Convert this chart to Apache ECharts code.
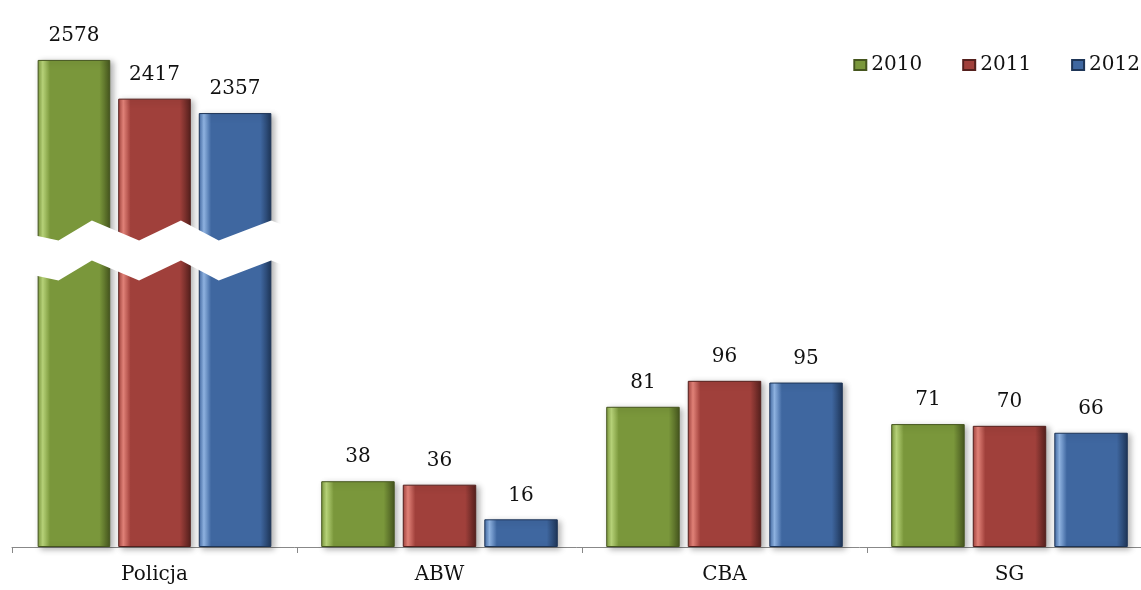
<!DOCTYPE html>
<html>
<head>
<meta charset="utf-8">
<script src="https://cdn.jsdelivr.net/npm/echarts@6/dist/echarts.min.js"></script>
<style>
html,body{margin:0;padding:0;background:#fff;}
#chart{width:1141px;height:590px;}
</style>
</head>
<body>
<div id="chart"></div>
<script>
// ---- data ----
var categories = ['Policja', 'ABW', 'CBA', 'SG'];
var years = ['2010', '2011', '2012'];
var values2010 = [2578, 38, 81, 71];
var values2011 = [2417, 36, 96, 70];
var values2012 = [2357, 16, 95, 66];

// ---- styling ----
var palettes = [
  { light: '#bcd87c', base: '#7a973b', dark: '#45551e' },
  { light: '#e8867c', base: '#a0403b', dark: '#54201d' },
  { light: '#93b8e8', base: '#3f67a0', dark: '#1e3557' }
];
var FONT = 'DejaVu Serif';

function grad(p) {
  return new echarts.graphic.LinearGradient(0, 0, 1, 0, [
    { offset: 0, color: p.base },
    { offset: 0.07, color: p.light },
    { offset: 0.17, color: p.base },
    { offset: 0.85, color: p.base },
    { offset: 1, color: p.dark }
  ]);
}

var allValues = [values2010, values2011, values2012];
var series = [];
allValues.forEach(function (vals, i) {
  var style = {
    color: grad(palettes[i]),
    borderColor: palettes[i].dark,
    borderWidth: 1,
    shadowBlur: 6,
    shadowOffsetX: 3,
    shadowOffsetY: 2,
    shadowColor: 'rgba(0,0,0,0.3)'
  };
  var label = {
    show: true, position: 'top', distance: 14,
    fontFamily: FONT, fontSize: 20, color: '#111'
  };
  // large category (Policja) on broken axis
  series.push({
    name: years[i], type: 'bar', xAxisIndex: 1, yAxisIndex: 1,
    barGap: '11%', barCategoryGap: '18%',
    data: vals.map(function (v, k) { return k === 0 ? v : '-'; }),
    itemStyle: style, label: label
  });
  // small categories on linear axis
  series.push({
    name: years[i], type: 'bar', xAxisIndex: 0, yAxisIndex: 0,
    barGap: '11%', barCategoryGap: '17%',
    data: vals.map(function (v, k) { return k === 0 ? '-' : v; }),
    itemStyle: style, label: label
  });
});

var chart = echarts.init(document.getElementById('chart'));
chart.setOption({
  animation: false,
  backgroundColor: '#fff',
  grid: { left: 12, right: -11, top: 45, bottom: 43, outerBoundsMode: 'none', containLabel: false },
  legend: {
    data: years, right: -4, top: 50,
    icon: 'rect', itemWidth: 12, itemHeight: 10, itemGap: 40,
    textStyle: { fontFamily: FONT, fontSize: 20, color: '#111' }
  },
  xAxis: [{
    type: 'category', data: categories,
    axisLine: { lineStyle: { color: '#888', width: 1 } },
    axisTick: { show: true, length: 6, lineStyle: { color: '#888' } },
    axisLabel: { fontFamily: FONT, fontSize: 20, color: '#111', margin: 18 }
  }, {
    type: 'category', data: categories, show: false
  }],
  yAxis: [{
    type: 'value', min: 0, max: 290, show: false
  }, {
    type: 'value', min: 0, max: 2640,
    breaks: [{ start: 1150, end: 1870, gap: '8%' }],
    breakArea: {
      show: true,
      itemStyle: { color: '#ffffff', borderColor: '#ffffff', borderWidth: 0, opacity: 1 },
      zigzagAmplitude: 10, zigzagMinSpan: 30, zigzagMaxSpan: 60, zigzagZ: 100
    },
    axisLine: { show: false }, axisTick: { show: false },
    axisLabel: { show: false }, splitLine: { show: false }
  }],
  series: series
});
</script>
</body>
</html>
